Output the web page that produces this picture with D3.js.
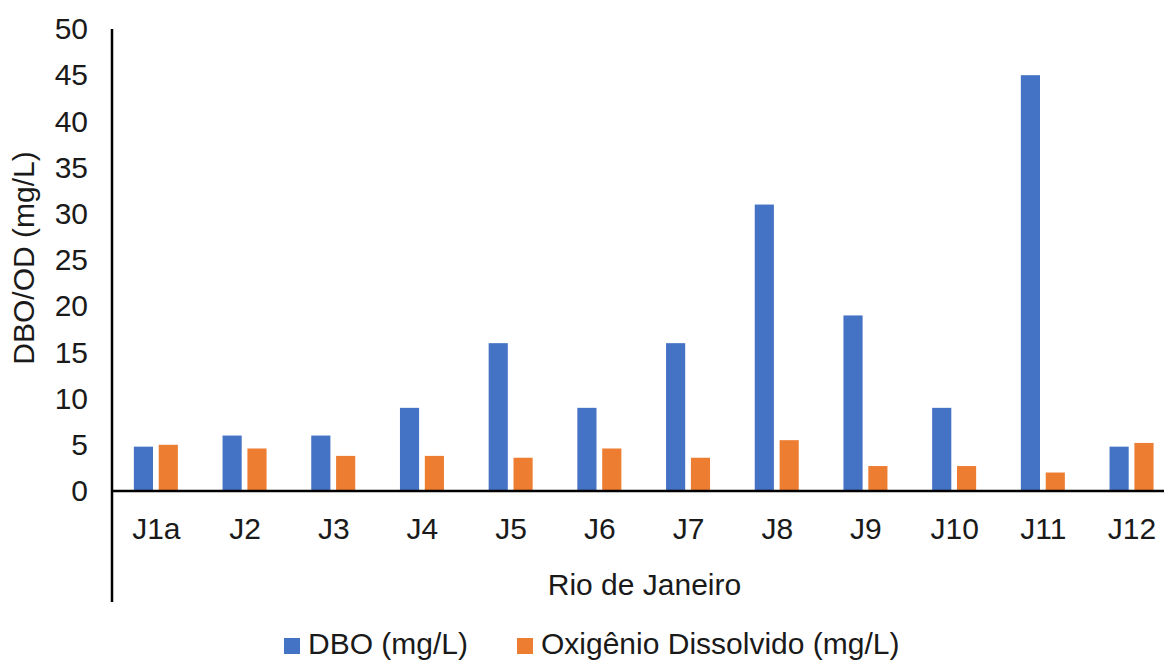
<!DOCTYPE html>
<html><head><meta charset="utf-8">
<script src="https://cdn.jsdelivr.net/npm/d3@7"></script>
<style>
html,body{margin:0;padding:0;background:#fff;}
svg{display:block;font-family:"Liberation Sans",Arial,sans-serif;}
</style></head>
<body><svg id="c" width="1164" height="662"></svg>
<script>
const categories = ["J1a","J2","J3","J4","J5","J6","J7","J8","J9","J10","J11","J12"];
const dbo = [4.8, 6, 6, 9, 16, 9, 16, 31, 19, 9, 45, 4.8];
const od = [5.0, 4.6, 3.8, 3.8, 3.6, 4.6, 3.6, 5.5, 2.7, 2.7, 2.0, 5.2];
const seriesNames = ["DBO (mg/L)", "Oxigênio Dissolvido (mg/L)"];
const yTicks = [0,5,10,15,20,25,30,35,40,45,50];
const colors = ["#4472C4", "#ED7D31"];

(function(){
const svg = d3.select("#c");
const pL = 112, pR = 1176.4, pT = 29, pB = 491;
const FS = 30;
const x = d3.scaleBand().domain(categories).range([pL, pR]).padding(0);
const y = d3.scaleLinear().domain([0, 50]).range([pB, pT]);
const xs = d3.scaleBand().domain([0,1]).range([-22, 22]).paddingInner(0.23);

const textColor = "#1a1a1a";

// bars
const g = svg.append("g");
categories.forEach((c, i) => {
  [dbo[i], od[i]].forEach((v, s) => {
    g.append("rect")
      .attr("x", x(c) + x.bandwidth()/2 + xs(s) - 0.5)
      .attr("y", y(v))
      .attr("width", xs.bandwidth())
      .attr("height", y(0) - y(v))
      .attr("fill", colors[s]);
  });
});

// y axis
const yAxis = d3.axisLeft(y).tickValues(yTicks).tickSize(0).tickPadding(24);
const ya = svg.append("g").attr("transform", `translate(${pL},0)`).call(yAxis);
ya.select(".domain").remove();
ya.selectAll("text").attr("font-size", FS).attr("fill", textColor)
  .attr("font-family", "Liberation Sans, Arial, sans-serif");

// vertical axis line extended down
svg.append("line").attr("x1", pL).attr("x2", pL).attr("y1", pT).attr("y2", 602)
  .attr("stroke", "#000").attr("stroke-width", 2.5);

// x axis
const xAxis = d3.axisBottom(x).tickSize(0).tickPadding(27);
const xa = svg.append("g").attr("transform", `translate(0,${pB})`).call(xAxis);
xa.select(".domain").remove();
xa.selectAll("text").attr("font-size", FS).attr("fill", textColor)
  .attr("font-family", "Liberation Sans, Arial, sans-serif");
svg.append("line").attr("x1", pL).attr("x2", 1164).attr("y1", pB).attr("y2", pB)
  .attr("stroke", "#000").attr("stroke-width", 2.5);

// axis titles
svg.append("text").attr("x", 644.5).attr("y", 595)
  .attr("text-anchor", "middle").attr("font-size", FS).attr("fill", textColor)
  .text("Rio de Janeiro");
svg.append("text").attr("transform", `translate(33.5,258) rotate(-90)`)
  .attr("text-anchor", "middle").attr("font-size", FS).attr("fill", textColor)
  .text("DBO/OD (mg/L)");

// legend
const legendX = [284, 517];
seriesNames.forEach((n, s) => {
  svg.append("rect").attr("x", legendX[s]).attr("y", 638).attr("width", 16).attr("height", 16)
    .attr("fill", colors[s]);
  svg.append("text").attr("x", legendX[s] + 24).attr("y", 654)
    .attr("font-size", FS).attr("fill", textColor).text(n);
});
})();
</script></body></html>
